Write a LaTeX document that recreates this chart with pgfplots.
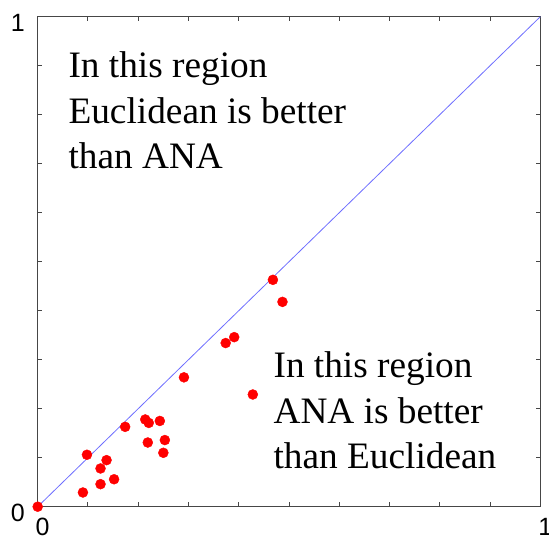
\documentclass[border=0pt]{standalone}
\usepackage{fontspec}
\setmainfont{Liberation Serif}
\newfontfamily\arialfont{Liberation Sans}
\usepackage{pgfplots}
\pgfplotsset{compat=1.18}
\definecolor{diagblue}{RGB}{110,110,255}
\definecolor{axgray}{RGB}{70,70,70}
\begin{document}
\begin{tikzpicture}
\useasboundingbox (-37.7pt,-31.3pt) rectangle (511.3pt,506.7pt);
\begin{axis}[
  at={(0pt,0pt)}, anchor=south west,
  scale only axis,
  width=502.6pt, height=490pt,
  xmin=0, xmax=1, ymin=0, ymax=1,
  clip=false,
  axis line style={axgray, line width=1.1pt},
  tick style={axgray, line width=1pt},
  major tick length=4.5pt,
  tick align=inside,
  xtick pos=both, ytick pos=both,
  xtick={0,0.1,0.2,0.3,0.4,0.5,0.6,0.7,0.8,0.9,1},
  ytick={0,0.1,0.2,0.3,0.4,0.5,0.6,0.7,0.8,0.9,1},
  xticklabels={0,,,,,,,,,,1},
  yticklabels={0,,,,,,,,,,1},
  xticklabel style={font=\fontsize{25}{25}\selectfont\arialfont, inner sep=0pt, anchor=north, yshift=-11.3pt, xshift=5pt},
  yticklabel style={font=\fontsize{25}{25}\selectfont\arialfont, inner sep=0pt, anchor=east, xshift=-12.7pt, yshift=-6pt},
]
\addplot[only marks, mark=*, mark size=5pt, color=red, mark options={draw=red, fill=red}] coordinates {
(0,0)
(0.468,0.463)
(0.487,0.418)
(0.374,0.334)
(0.391,0.346)
(0.291,0.264)
(0.428,0.229)
(0.174,0.163)
(0.214,0.178)
(0.221,0.171)
(0.243,0.175)
(0.219,0.131)
(0.253,0.136)
(0.250,0.110)
(0.098,0.106)
(0.137,0.095)
(0.125,0.078)
(0.125,0.046)
(0.152,0.056)
(0.090,0.029)
};
\addplot[diagblue, line width=0.8pt] coordinates {(0,0) (1,1)};
\begin{scope}[every node/.style={font=\fontsize{37.3}{45}\selectfont, inner sep=0pt, anchor=base west}]
\node at (axis cs:0.061,0.876) {In this region};
\node at (axis cs:0.061,0.782) {Euclidean is better};
\node at (axis cs:0.061,0.691) {than ANA};
\node at (axis cs:0.469,0.264) {In this region};
\node at (axis cs:0.469,0.170) {ANA is better};
\node at (axis cs:0.469,0.078) {than Euclidean};
\end{scope}
\end{axis}
\end{tikzpicture}
\end{document}
